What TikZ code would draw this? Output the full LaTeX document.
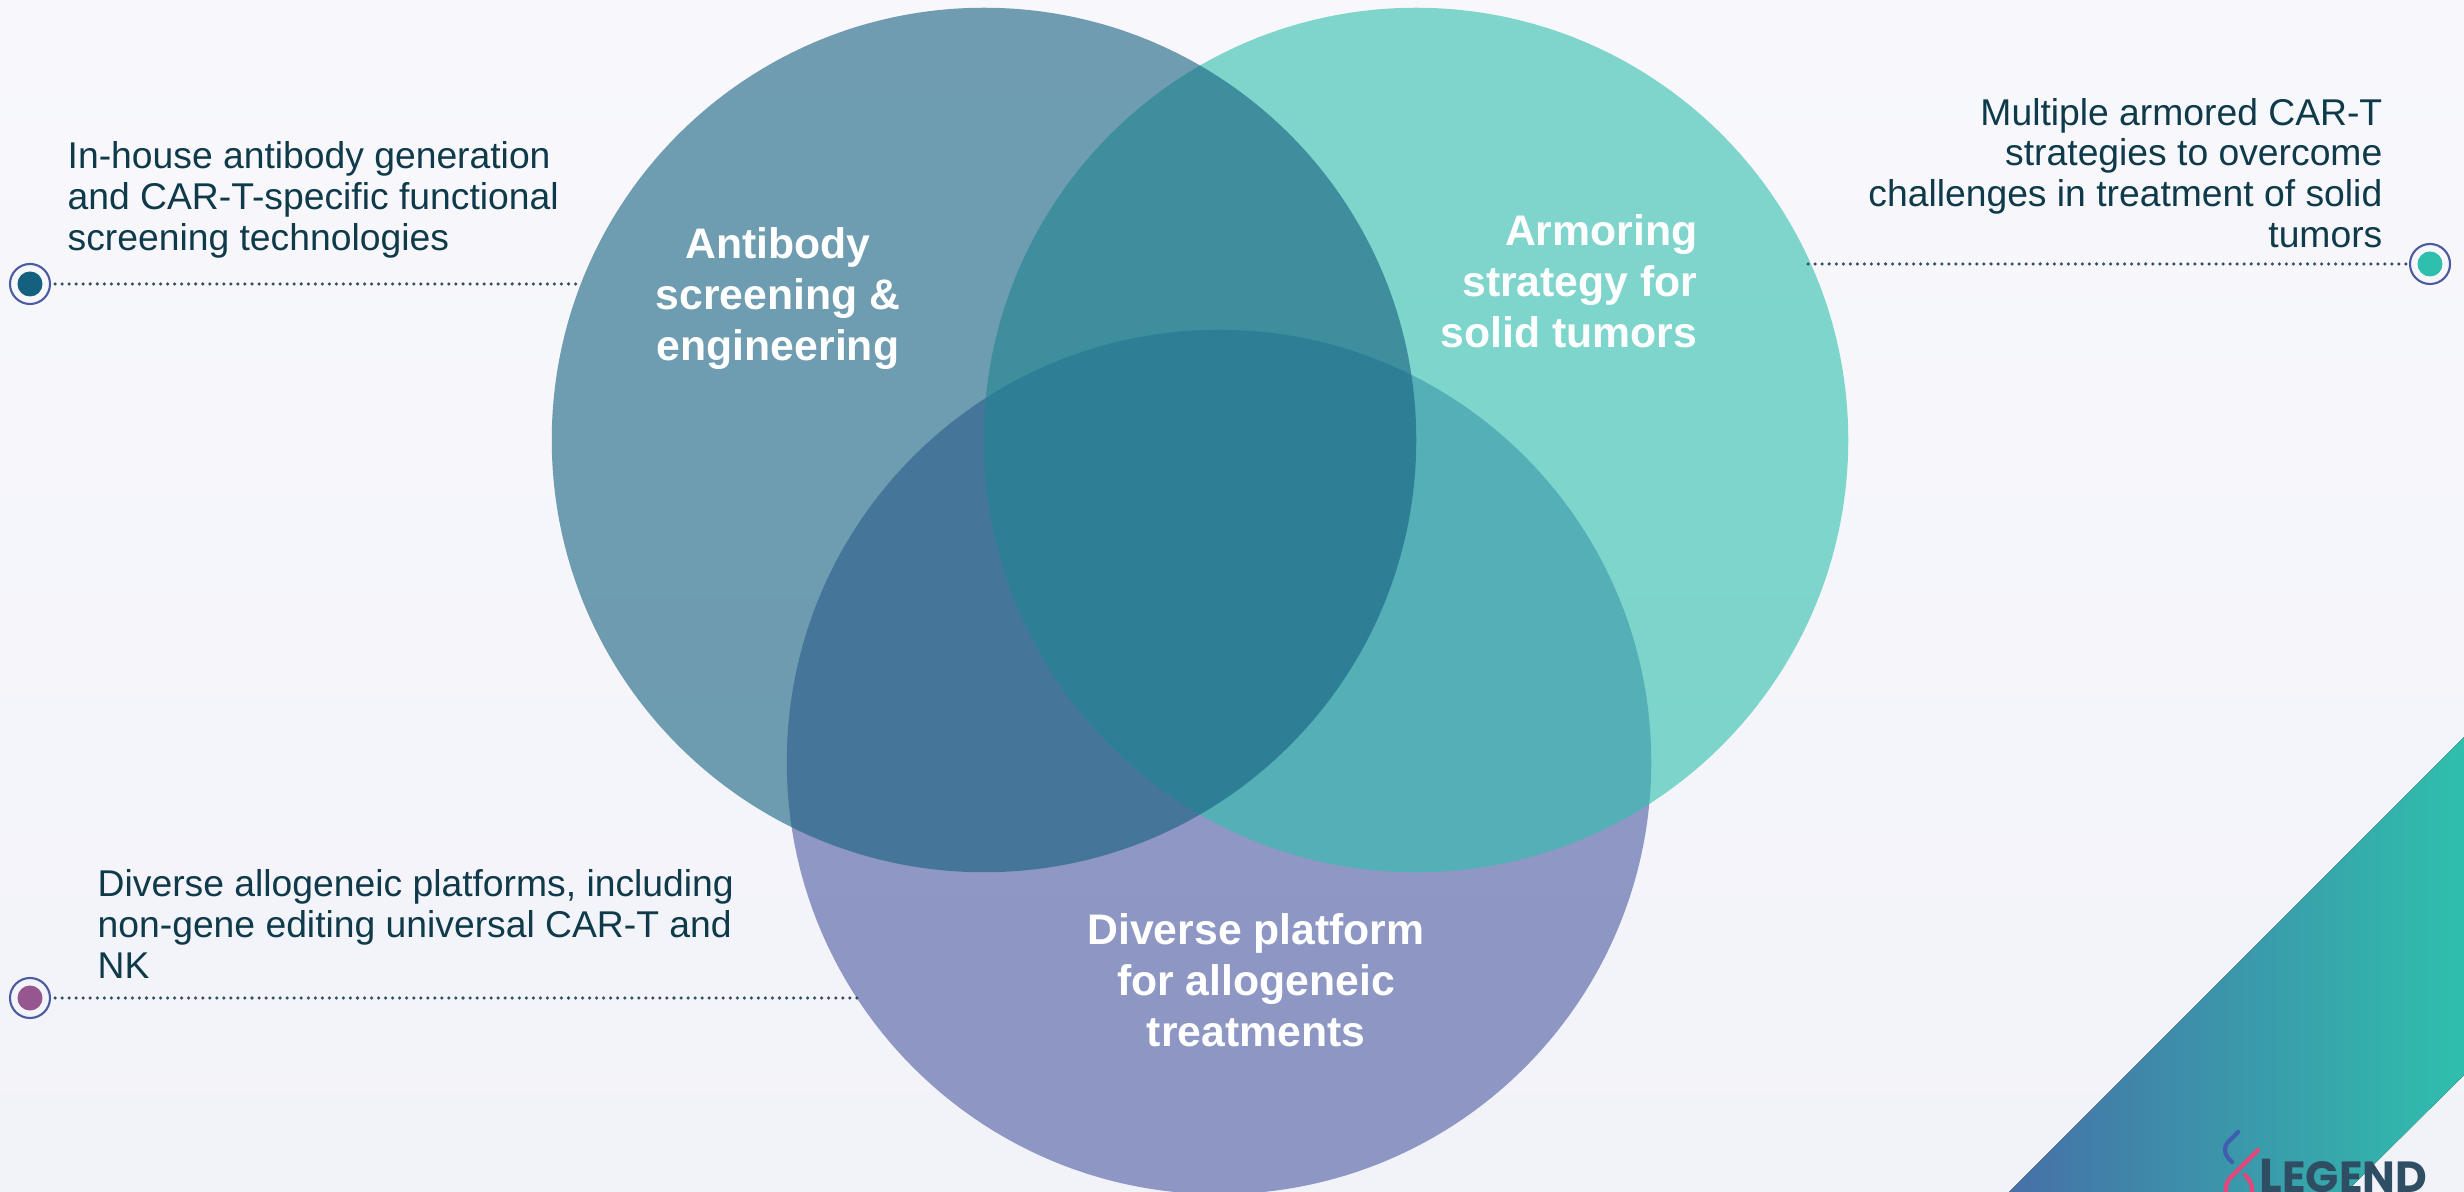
\documentclass[tikz,border=0pt]{standalone}
\usepackage{fontspec}
\setmainfont{Liberation Sans}
\newfontfamily\logofont{Poppins}
\usetikzlibrary{positioning,calc}
\definecolor{bgtop}{HTML}{F8F8FC}
\definecolor{bgbottom}{HTML}{F2F3F9}
\definecolor{abblue}{HTML}{14607F}
\definecolor{armteal}{HTML}{2FBFAD}
\definecolor{platviolet}{HTML}{4C5AA0}
\definecolor{darktext}{HTML}{0F3A4A}
\definecolor{dotgrey}{HTML}{33505F}
\definecolor{ringblue}{HTML}{4C5AA0}
\definecolor{dotplum}{HTML}{96568F}
\definecolor{bandblue}{HTML}{4670A8}
\definecolor{logopink}{HTML}{E5467A}
\definecolor{logoblue}{HTML}{3F5FAE}
\definecolor{logodark}{HTML}{304E63}
\begin{document}
\begin{tikzpicture}[x=0.01cm,y=-0.01cm]
  \useasboundingbox (0,0) rectangle (2464,1192);
  \clip (0,0) rectangle (2464,1192);
  \fill [top color=bgtop,bottom color=bgbottom] (0,0) rectangle (2464,1192);

  % Corner band
  \fill [left color=bandblue,right color=armteal]
    (2009,1192) -- (2464,737) -- (2464,1075) -- (2346,1192) -- cycle;

  \begin{scope}[
    every node/.style={
      circle,
      inner sep=0pt,
      minimum size=8.64cm,
      fill opacity=0.6,
    },
    ]
    % Circles
    \node [fill=platviolet] (platform) at (1219,762) {};
    \node [fill=armteal] (armoring) at (1416,440) {};
    \node [fill=abblue] (antibody) at (984,440) {};
  \end{scope}

  \begin{scope}[
    every node/.style={
      text=white,
      inner sep=0pt,
      font=\fontsize{12.15pt}{14.5pt}\selectfont\bfseries,
    },
    ]
    \node [align=center] (antibodytext) at (778,299)
      {Antibody\\screening \&\\engineering};
    \node [align=right,anchor=east] (armoringtext) at (1698,281)
      {Armoring\\strategy for\\solid tumors};
    \node [align=center] (platformtext) at (1256,980)
      {Diverse platform\\for allogeneic\\treatments};
  \end{scope}

  \begin{scope}[
    every node/.style={
      text=darktext,
      inner sep=0pt,
      font=\fontsize{10.6pt}{11.6pt}\selectfont,
    },
    ]
    \node [align=left,anchor=west] (antibodynote) at (67,200)
      {In-house antibody generation\\and CAR-T-specific functional\\screening technologies};
    \node [align=right,anchor=east] (armoringnote) at (2383,173)
      {Multiple armored CAR-T\\strategies to overcome\\challenges in treatment of solid\\tumors};
    \node [align=left,anchor=west] (platformnote) at (97,924)
      {Diverse allogeneic platforms, including\\non-gene editing universal CAR-T and\\NK};
  \end{scope}

  \begin{scope}[
    marker/.style={
      circle,
      draw=ringblue,
      line width=0.6pt,
      inner sep=0pt,
      minimum size=0.4cm,
    },
    pip/.style={
      circle,
      inner sep=0pt,
      minimum size=0.25cm,
    },
    leader/.style={
      line width=1pt,
      line cap=round,
      dash pattern=on 0pt off 2pt,
      dotgrey,
    },
    ]
    % Left top
    \node [marker] (antibodymark) at (30,284) {};
    \node [pip,fill=abblue] (antibodypip) at (antibodymark) {};
    \coordinate (antibodyend) at (579,284);
    \draw [leader] ($(antibodymark.east)+(4,0)$) -- (antibodyend);

    % Right top
    \node [marker] (armoringmark) at (2430,264) {};
    \node [pip,fill=armteal] (armoringpip) at (armoringmark) {};
    \coordinate (armoringend) at (1808,264);
    \draw [leader] ($(armoringmark.west)+(-3,0)$) -- (armoringend);

    % Left bottom
    \node [marker] (platformmark) at (30,998) {};
    \node [pip,fill=dotplum] (platformpip) at (platformmark) {};
    \coordinate (platformend) at (860,998);
    \draw [leader] ($(platformmark.east)+(4,0)$) -- (platformend);
  \end{scope}

  % Logo
  \draw [logoblue,line width=1.2pt,line cap=round]
    (2238,1132) -- (2228,1142) .. controls (2223,1148) and (2224,1155) .. (2232,1162);
  \draw [logopink,line width=1.2pt,line cap=round]
    (2258,1150) -- (2230,1178) .. controls (2226,1182) and (2225,1188) .. (2226,1196);
  \draw [logopink,line width=1.2pt,line cap=round]
    (2245,1175) .. controls (2251,1181) and (2253,1187) .. (2252,1196);
  \node [anchor=base west,inner sep=0pt,text=logodark] (logo) at (2259,1192)
    {\logofont\bfseries\fontsize{13.5pt}{13.5pt}\selectfont L\fontsize{12.4pt}{12.4pt}\selectfont EGEND};
\end{tikzpicture}
\end{document}
